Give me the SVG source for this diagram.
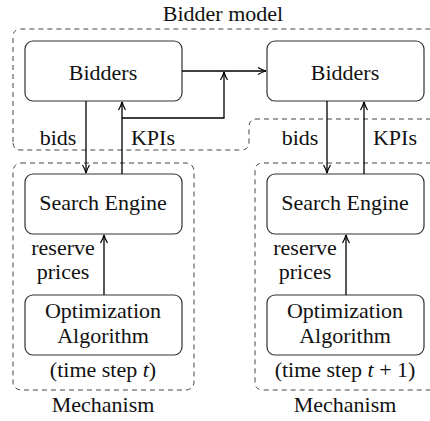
<svg xmlns="http://www.w3.org/2000/svg" width="430" height="421" viewBox="0 0 430 421" font-family="Liberation Serif, DejaVu Serif, serif">
<style>
text{font-size:22px;fill:#111;text-anchor:middle}
.node{fill:#fff;stroke:#333;stroke-width:1.2}
.grp{fill:none;stroke:#444;stroke-width:1;stroke-dasharray:5 4}
.edge{fill:none;stroke:#000;stroke-width:1.3}
</style>
<defs>
<marker id="arr" viewBox="0 0 10 10" refX="9" refY="5" markerWidth="10" markerHeight="10" markerUnits="userSpaceOnUse" orient="auto">
<path d="M1,1.5 Q5,4 9,5 Q5,6 1,8.5" fill="none" stroke="#000" stroke-width="1.2"/>
</marker>
</defs>
<rect width="430" height="421" fill="#fff"/>
<g id="bidder-model">
<path class="grp" d="M13,142 V37 Q13,29 21,29 H440 M440,119 H257 Q249,119 249,127 V142 Q249,150 241,150 H21 Q13,150 13,142"/>
<text x="223" y="21" font-family="Liberation Serif, serif">Bidder model</text>
</g>
<g id="mechanism-t">
<rect class="grp" x="13" y="163" width="181" height="227" rx="8"/>
<text x="103" y="412">Mechanism</text>
<text x="103" y="377">(time step <tspan font-style="italic">t</tspan>)</text>
</g>
<g id="mechanism-t1">
<path class="grp" d="M440,163 H263 Q255,163 255,171 V382 Q255,390 263,390 H440"/>
<text x="345" y="412">Mechanism</text>
<text x="345" y="377">(time step <tspan font-style="italic">t</tspan> + 1)</text>
</g>
<g id="bidders-t">
<rect class="node" x="25" y="41" width="157" height="60" rx="8"/>
<text x="103" y="80">Bidders</text>
</g>
<g id="bidders-t1">
<rect class="node" x="267" y="41" width="157" height="60" rx="8"/>
<text x="345" y="80">Bidders</text>
</g>
<g id="search-engine-t">
<rect class="node" x="25" y="174" width="157" height="60" rx="8"/>
<text x="103" y="210">Search Engine</text>
</g>
<g id="search-engine-t1">
<rect class="node" x="267" y="174" width="157" height="60" rx="8"/>
<text x="345" y="210">Search Engine</text>
</g>
<g id="optimization-t">
<rect class="node" x="25" y="295" width="157" height="60" rx="8"/>
<text x="103" y="318">Optimization</text>
<text x="103" y="343">Algorithm</text>
</g>
<g id="optimization-t1">
<rect class="node" x="267" y="295" width="157" height="60" rx="8"/>
<text x="345" y="318">Optimization</text>
<text x="345" y="343">Algorithm</text>
</g>
<g id="connectors">
<path class="edge" d="M182,71 H266" marker-end="url(#arr)"/>
<path class="edge" d="M86,101 V173" marker-end="url(#arr)"/>
<path class="edge" d="M122,174 V102" marker-end="url(#arr)"/>
<path class="edge" d="M122,118 H224 V72" marker-end="url(#arr)"/>
<path class="edge" d="M104,295 V235" marker-end="url(#arr)"/>
<path class="edge" d="M327,101 V173" marker-end="url(#arr)"/>
<path class="edge" d="M364,174 V102" marker-end="url(#arr)"/>
<path class="edge" d="M346,295 V235" marker-end="url(#arr)"/>
<text x="58" y="145">bids</text>
<text x="153" y="145">KPIs</text>
<text x="300" y="145">bids</text>
<text x="395" y="145">KPIs</text>
<text x="63" y="255">reserve</text>
<text x="63" y="279">prices</text>
<text x="305" y="255">reserve</text>
<text x="305" y="279">prices</text>
</g>
</svg>
